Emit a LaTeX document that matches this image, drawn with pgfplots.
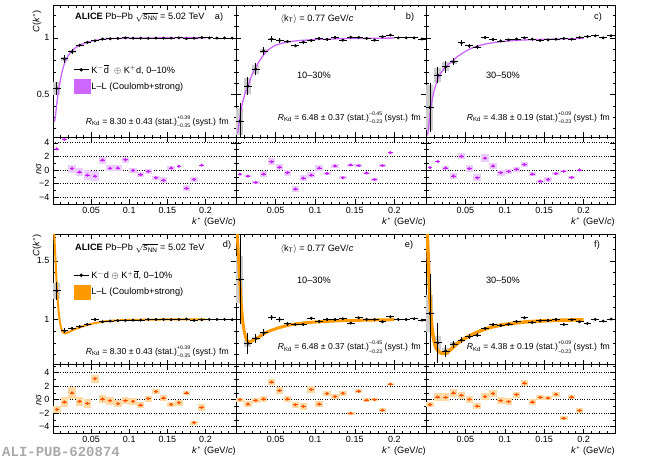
\documentclass[border=0pt]{standalone}
\usepackage{pgfplots}
\pgfplotsset{compat=1.18}
\usepackage{pgfplotstable}
\usepackage{amsmath}
\usepackage{fontspec}
\setmainfont{Liberation Sans}
\newfontfamily\monofont{Liberation Mono}
\definecolor{vline}{RGB}{204,102,255}
\definecolor{vmark}{RGB}{200,30,255}
\definecolor{vbox}{RGB}{236,205,255}
\definecolor{oline}{RGB}{255,153,0}
\definecolor{omark}{RGB}{255,80,0}
\definecolor{obox}{RGB}{255,218,165}
\definecolor{syst}{RGB}{205,205,205}
\definecolor{alig}{RGB}{170,170,170}
\newcommand\tickfont{\fontsize{9}{10}\selectfont}
\newcommand\txtfont{\fontsize{9.2}{11}\selectfont}
\newcommand\rfont{\fontsize{8.6}{10}\selectfont}
\newcommand\ud[2]{\makebox[0pt][l]{\raisebox{5pt}{\fontsize{5.2}{6}\selectfont #1}}\raisebox{-3.4pt}{\fontsize{5.2}{6}\selectfont #2}}

% main panels: x y ey sy
\pgfplotstableread{
x y ey sy
0.005 0.553 0.060 0.055
0.015 0.815 0.035 0.020
0.025 0.877 0.022 0.012
0.035 0.935 0.015 0.006
0.045 0.960 0.012 0
0.055 0.974 0.010 0
0.065 0.990 0.010 0
0.075 0.992 0.008 0
0.085 0.995 0.008 0
0.095 1.000 0.008 0
0.105 0.997 0.007 0
0.115 0.997 0.007 0
0.125 0.996 0.007 0
0.135 0.998 0.007 0
0.145 0.997 0.006 0
0.155 0.998 0.006 0
0.165 1.000 0.006 0
0.175 0.993 0.006 0
0.185 0.997 0.006 0
0.195 1.003 0.006 0
0.205 1.000 0.006 0
0.215 0.998 0.006 0
0.225 0.999 0.006 0
0.235 0.998 0.006 0
}\mainA
\pgfplotstableread{
x y ey sy
0.005 0.265 0.160 0.120
0.015 0.574 0.080 0.070
0.025 0.724 0.050 0.040
0.035 0.883 0.035 0.020
0.045 0.990 0.025 0.008
0.055 0.977 0.020 0
0.065 0.968 0.016 0
0.075 0.930 0.014 0
0.085 0.963 0.013 0
0.095 0.977 0.012 0
0.105 0.995 0.011 0
0.115 0.986 0.010 0
0.125 1.004 0.010 0
0.135 0.980 0.010 0
0.145 1.006 0.010 0
0.155 1.004 0.010 0
0.165 0.995 0.010 0
0.175 0.980 0.010 0
0.185 1.010 0.010 0
0.195 1.025 0.010 0
0.205 1.000 0.010 0
0.215 1.000 0.010 0
0.225 1.000 0.010 0
0.235 0.990 0.010 0
}\mainB
\pgfplotstableread{
x y ey sy
0.005 0.385 0.220 0.200
0.015 0.670 0.070 0.060
0.025 0.744 0.050 0.040
0.035 0.788 0.030 0.020
0.045 0.956 0.025 0
0.055 0.930 0.020 0
0.065 0.920 0.020 0
0.075 1.003 0.015 0
0.085 0.985 0.013 0
0.095 0.973 0.012 0
0.105 0.982 0.012 0
0.115 0.990 0.011 0
0.125 1.000 0.011 0
0.135 0.988 0.011 0
0.145 0.977 0.010 0
0.155 0.982 0.010 0
0.165 0.988 0.010 0
0.175 0.994 0.010 0
0.185 0.988 0.010 0
0.195 1.003 0.010 0
0.205 1.012 0.010 0
0.215 1.018 0.010 0
0.225 1.000 0.010 0
0.235 1.018 0.010 0
}\mainC
\pgfplotstableread{
x y ey sy
0.005 1.244 0.080 0.070
0.015 0.903 0.020 0.010
0.025 0.923 0.015 0.006
0.035 0.938 0.012 0
0.045 0.957 0.010 0
0.055 1.000 0.010 0
0.065 0.980 0.008 0
0.075 0.986 0.008 0
0.085 0.989 0.007 0
0.095 0.991 0.007 0
0.105 0.994 0.007 0
0.115 0.994 0.006 0
0.125 1.000 0.006 0
0.135 1.000 0.006 0
0.145 1.000 0.006 0
0.155 0.998 0.006 0
0.165 1.000 0.006 0
0.175 1.003 0.006 0
0.185 0.992 0.006 0
0.195 0.997 0.006 0
0.205 1.000 0.006 0
0.215 1.000 0.006 0
0.225 1.000 0.006 0
0.235 0.998 0.006 0
}\mainD
\pgfplotstableread{
x y ey sy
0.005 1.340 0.380 0.200
0.015 0.795 0.090 0.030
0.025 0.838 0.040 0.015
0.035 0.886 0.030 0.010
0.045 1.017 0.025 0
0.055 1.000 0.020 0
0.065 0.963 0.016 0
0.075 0.957 0.014 0
0.085 0.957 0.013 0
0.095 1.011 0.012 0
0.105 0.983 0.011 0
0.115 1.000 0.010 0
0.125 1.000 0.010 0
0.135 1.006 0.010 0
0.145 0.969 0.010 0
0.155 1.014 0.010 0
0.165 1.000 0.010 0
0.175 1.000 0.010 0
0.185 0.980 0.010 0
0.195 1.023 0.010 0
0.205 1.000 0.010 0
0.215 1.000 0.010 0
0.225 1.006 0.010 0
0.235 0.994 0.010 0
}\mainE
\pgfplotstableread{
x y ey sy
0.005 1.050 0.340 0.160
0.015 0.800 0.170 0.060
0.025 0.730 0.050 0.030
0.035 0.790 0.030 0.015
0.045 0.824 0.022 0
0.055 0.852 0.020 0
0.065 0.866 0.018 0
0.075 0.923 0.016 0
0.085 0.955 0.014 0
0.095 0.949 0.013 0
0.105 0.960 0.012 0
0.115 0.983 0.012 0
0.125 1.014 0.011 0
0.135 0.974 0.011 0
0.145 0.989 0.010 0
0.155 0.991 0.010 0
0.165 1.000 0.010 0
0.175 0.957 0.010 0
0.185 0.997 0.010 0
0.195 0.980 0.010 0
0.205 0.966 0.010 0
0.215 1.000 0.010 0
0.225 0.986 0.010 0
0.235 1.003 0.010 0
}\mainF

% ratio panels: x y h
\pgfplotstableread{
x y h
0.005 3.10 0.00
0.015 4.50 0.00
0.025 0.20 0.60
0.035 -0.30 0.60
0.045 -0.75 0.70
0.055 -0.90 0.75
0.065 1.45 0.50
0.075 0.25 0.45
0.085 0.30 0.45
0.095 1.50 0.45
0.105 -0.05 0.40
0.115 -0.70 0.40
0.125 -0.20 0.35
0.135 -1.15 0.30
0.145 -1.50 0.40
0.155 0.30 0.30
0.165 0.55 0.00
0.175 -2.70 0.45
0.185 -1.40 0.40
0.195 0.70 0.00
}\ratA
\pgfplotstableread{
x y h
0.005 -0.60 0.00
0.015 -0.90 0.20
0.025 -1.85 0.20
0.035 -0.60 0.45
0.045 1.20 0.50
0.055 0.40 0.45
0.065 -0.40 0.45
0.075 -2.80 0.50
0.085 -1.20 0.40
0.095 -0.75 0.40
0.105 0.30 0.40
0.115 -0.50 0.25
0.125 0.60 0.30
0.135 -1.15 0.20
0.145 0.75 0.20
0.155 0.65 0.20
0.165 -0.45 0.15
0.175 -1.40 0.15
0.185 0.65 0.20
0.195 2.55 0.00
}\ratB
\pgfplotstableread{
x y h
0.005 0.35 0.00
0.015 1.25 0.00
0.025 0.30 0.30
0.035 -0.90 0.45
0.045 2.00 0.45
0.055 0.20 0.55
0.065 -1.15 0.50
0.075 1.75 0.55
0.085 0.60 0.45
0.095 -0.40 0.45
0.105 -0.20 0.40
0.115 0.10 0.40
0.125 0.80 0.40
0.135 -0.60 0.30
0.145 -1.65 0.25
0.155 -1.40 0.30
0.165 -0.55 0.20
0.175 -0.20 0.15
0.185 -1.10 0.25
0.195 0.00 0.00
}\ratC
\pgfplotstableread{
x y h
0.005 -1.45 0.45
0.015 -0.35 0.70
0.025 1.00 0.90
0.035 -0.25 0.70
0.045 -0.55 0.65
0.055 3.10 0.60
0.065 0.10 0.65
0.075 -0.15 0.60
0.085 -0.60 0.55
0.095 -0.15 0.55
0.105 -0.25 0.50
0.115 -0.80 0.45
0.125 0.15 0.45
0.135 1.20 0.40
0.145 0.25 0.40
0.155 -0.70 0.40
0.165 -0.45 0.45
0.175 1.00 0.30
0.185 -3.40 0.30
0.195 -1.15 0.50
}\ratD
\pgfplotstableread{
x y h
0.005 0.00 0.30
0.015 -0.65 0.40
0.025 -0.10 0.40
0.035 0.10 0.40
0.045 2.60 0.45
0.055 1.35 0.50
0.065 0.10 0.50
0.075 -0.75 0.45
0.085 -1.00 0.50
0.095 1.50 0.45
0.105 -0.65 0.40
0.115 0.90 0.40
0.125 0.45 0.40
0.135 0.95 0.35
0.145 -2.00 0.25
0.155 1.25 0.30
0.165 -0.05 0.25
0.175 0.00 0.25
0.185 -1.55 0.25
0.195 2.30 0.20
}\ratE
\pgfplotstableread{
x y h
0.005 -0.75 0.40
0.015 0.40 0.55
0.025 0.35 0.60
0.035 1.00 0.60
0.045 0.65 0.55
0.055 0.05 0.55
0.065 -0.95 0.50
0.075 0.45 0.50
0.085 0.90 0.50
0.095 -0.15 0.50
0.105 -0.30 0.50
0.115 0.75 0.45
0.125 2.45 0.40
0.135 -0.35 0.40
0.145 0.35 0.40
0.155 0.25 0.35
0.165 0.80 0.35
0.175 -2.75 0.30
0.185 0.40 0.35
0.195 -1.60 0.30
}\ratF

\pgfplotsset{
  rootbase/.style={scale only axis, anchor=south west, xmin=0, xmax=0.24,
    axis line style={line width=0.5pt},
    every tick/.style={black, line width=0.5pt},
    tick align=inside, major tick length=5pt, minor tick length=2.5pt,
    xtick={0.05,0.1,0.15,0.2},
    minor xtick={0.01,0.02,0.03,0.04,0.06,0.07,0.08,0.09,0.11,0.12,0.13,0.14,0.16,0.17,0.18,0.19,0.21,0.22,0.23},
    ticklabel style={font=\tickfont},
    /pgf/number format/assume math mode=true,
    yticklabels={}},
  mainTop/.style={rootbase, height=132pt, ymin=0.125, ymax=1.29,
    ytick={0.5,1}, minor ytick={0.2,0.3,0.4,0.6,0.7,0.8,0.9,1.1,1.2},
    xticklabels={}},
  mainBot/.style={rootbase, height=130.5pt, ymin=0.615, ymax=1.73,
    ytick={1,1.5}, minor ytick={0.7,0.8,0.9,1.1,1.2,1.3,1.4,1.6,1.7},
    xticklabels={}},
  ratTop/.style={rootbase, height=67pt, ymin=-5, ymax=4.85,
    ytick={-4,-2,0,2,4}, minor ytick={-5,-3,-1,1,3},
    ymajorgrids, grid style={black, line width=0.6pt, dash pattern=on 0.8pt off 1.6pt},
    xticklabels={0.05,0.1,0.15,0.2}},
  ratBot/.style={ratTop, height=69pt, ymin=-5, ymax=5.2, minor ytick={-5,-3,-1,1,3,5},
    xticklabel style={yshift=1.2pt}},
  systbox/.style={forget plot, only marks, mark=*, mark size=0pt,
    mark options={draw=none, fill=none},
    error bars/.cd, y dir=both, y explicit, error mark=none,
    error bar style={line width=7pt, line cap=butt, color=syst}},
  datapts/.style={forget plot, only marks, black, mark=*, mark size=1.3pt,
    error bars/.cd, x dir=both, x fixed=0.005, y dir=both, y explicit, error mark=none,
    error bar style={line width=0.8pt, line cap=butt, black}},
  rbox/.style={forget plot, only marks, mark=*, mark size=0pt,
    mark options={draw=none, fill=none},
    error bars/.cd, y dir=both, y explicit, error mark=none,
    error bar style={line width=7.5pt, line cap=butt, color=#1}},
  rpts/.style={forget plot, only marks, mark=*, mark size=1.5pt, color=#1,
    mark options={draw=#1, fill=#1, line width=0.1pt},
    error bars/.cd, x dir=both, x fixed=0.003, error mark=none,
    error bar style={line width=0.7pt, line cap=butt, color=#1}},
  leg/.style={legend style={draw=none, fill=none, at={#1}, anchor=north west,
    inner sep=0pt, row sep=3pt, font=\txtfont,
    nodes={inner sep=1.5pt},
    /tikz/every even column/.append style={column sep=2pt}},
    legend cell align=left},
}

\begin{document}
\begin{tikzpicture}
\useasboundingbox (0,0) rectangle (650pt,459pt);

% ===== TOP ROW =====
\begin{axis}[mainTop, at={(53pt,322pt)}, width=183pt, yticklabels={0.5,1},
  leg={(0.11,0.56)}]
\addplot[systbox] table[x=x,y=y,y error=sy]{\mainA};
\addplot[forget plot, vline, line width=1.3pt, smooth] coordinates {
(0.002,0.26) (0.003,0.30) (0.005,0.42) (0.007,0.52) (0.010,0.64) (0.013,0.73)
(0.016,0.79) (0.020,0.845) (0.025,0.885) (0.030,0.915) (0.035,0.935) (0.040,0.95)
(0.050,0.97) (0.060,0.983) (0.070,0.99) (0.080,0.995) (0.100,0.998) (0.150,1.0) (0.200,1.0)};
\addplot[datapts] table[x=x,y=y,y error=ey]{\mainA};
\addlegendimage{black, line width=0.8pt, mark=*, mark size=1.3pt,
  legend image code/.code={\draw[mark repeat=2,mark phase=2,##1] plot coordinates {(0pt,0pt) (7.5pt,0pt) (15pt,0pt)};}}
\addlegendentry{K$^{-}\overline{\text{d}}$ \ $\oplus$ K$^{+}$d, 0–10\%}
\addlegendimage{legend image code/.code={\fill[vline] (0pt,-7pt) rectangle (16pt,7pt);}}
\addlegendentry{L–L (Coulomb+strong)}
\end{axis}

\begin{axis}[mainTop, at={(236pt,322pt)}, width=190pt]
\addplot[systbox] table[x=x,y=y,y error=sy]{\mainB};
\addplot[forget plot, vline, line width=1.3pt, smooth] coordinates {
(0.002,0.16) (0.003,0.20) (0.005,0.30) (0.008,0.42) (0.012,0.52) (0.015,0.57)
(0.020,0.67) (0.025,0.74) (0.030,0.80) (0.035,0.85) (0.040,0.89) (0.045,0.915)
(0.050,0.935) (0.060,0.955) (0.070,0.968) (0.080,0.976) (0.100,0.985) (0.120,0.99)
(0.150,0.995) (0.200,0.998)};
\addplot[datapts] table[x=x,y=y,y error=ey]{\mainB};
\end{axis}

\begin{axis}[mainTop, at={(426pt,322pt)}, width=189pt]
\addplot[systbox] table[x=x,y=y,y error=sy]{\mainC};
\addplot[forget plot, vline, line width=1.3pt, smooth] coordinates {
(0.002,0.14) (0.003,0.20) (0.005,0.33) (0.008,0.46) (0.011,0.55) (0.015,0.64)
(0.020,0.70) (0.025,0.74) (0.030,0.775) (0.035,0.805) (0.040,0.835) (0.050,0.88)
(0.060,0.915) (0.075,0.945) (0.090,0.962) (0.100,0.97) (0.120,0.98) (0.150,0.987) (0.200,0.995)};
\addplot[datapts] table[x=x,y=y,y error=ey]{\mainC};
\end{axis}

\begin{axis}[ratTop, at={(53pt,255pt)}, width=183pt, yticklabels={−4,−2,0,2,4}]
\addplot[rbox=vbox] table[x=x,y=y,y error=h]{\ratA};
\addplot[rpts=vmark] table[x=x,y=y]{\ratA};
\end{axis}
\begin{axis}[ratTop, at={(236pt,255pt)}, width=190pt]
\addplot[rbox=vbox] table[x=x,y=y,y error=h]{\ratB};
\addplot[rpts=vmark] table[x=x,y=y]{\ratB};
\end{axis}
\begin{axis}[ratTop, at={(426pt,255pt)}, width=189pt]
\addplot[rbox=vbox] table[x=x,y=y,y error=h]{\ratC};
\addplot[rpts=vmark] table[x=x,y=y]{\ratC};
\end{axis}

% ===== BOTTOM ROW =====
\begin{axis}[mainBot, at={(53pt,94.5pt)}, width=183pt, yticklabels={1,1.5},
  leg={(0.11,0.735)}]
\addplot[systbox] table[x=x,y=y,y error=sy]{\mainD};
\addplot[forget plot, oline, line width=2pt, smooth] coordinates {
(0.0015,1.74) (0.003,1.55) (0.005,1.28) (0.007,1.10) (0.009,0.98) (0.011,0.92)
(0.013,0.89) (0.016,0.88) (0.020,0.89) (0.025,0.905) (0.030,0.92) (0.040,0.943)
(0.050,0.962) (0.060,0.975) (0.070,0.985) (0.085,0.992) (0.100,0.996) (0.150,1.0) (0.200,1.0)};
\addplot[datapts] table[x=x,y=y,y error=ey]{\mainD};
\addlegendimage{black, line width=0.8pt, mark=*, mark size=1.3pt,
  legend image code/.code={\draw[mark repeat=2,mark phase=2,##1] plot coordinates {(0pt,0pt) (7.5pt,0pt) (15pt,0pt)};}}
\addlegendentry{K$^{-}$d $\oplus$ K$^{+}\overline{\text{d}}$, 0–10\%}
\addlegendimage{legend image code/.code={\fill[oline] (0pt,-7pt) rectangle (16pt,7pt);}}
\addlegendentry{L–L (Coulomb+strong)}
\end{axis}

\begin{axis}[mainBot, at={(236pt,94.5pt)}, width=190pt]
\addplot[systbox] table[x=x,y=y,y error=sy]{\mainE};
\addplot[forget plot, oline, line width=3pt, smooth] coordinates {
(0.0015,1.74) (0.003,1.55) (0.005,1.30) (0.007,1.10) (0.009,0.96) (0.011,0.88)
(0.013,0.83) (0.016,0.81) (0.020,0.815) (0.025,0.835) (0.030,0.855) (0.035,0.875)
(0.040,0.895) (0.050,0.92) (0.060,0.94) (0.070,0.955) (0.085,0.97) (0.100,0.978)
(0.125,0.987) (0.150,0.992) (0.200,0.998)};
\addplot[datapts] table[x=x,y=y,y error=ey]{\mainE};
\end{axis}

\begin{axis}[mainBot, at={(426pt,94.5pt)}, width=189pt]
\addplot[systbox] table[x=x,y=y,y error=sy]{\mainF};
\addplot[forget plot, oline, line width=3.5pt, smooth] coordinates {
(0.0015,1.74) (0.003,1.50) (0.005,1.18) (0.007,0.97) (0.009,0.86) (0.012,0.77)
(0.016,0.725) (0.020,0.71) (0.025,0.712) (0.030,0.735) (0.035,0.765) (0.040,0.795)
(0.050,0.84) (0.060,0.875) (0.075,0.918) (0.090,0.945) (0.100,0.957) (0.125,0.978)
(0.150,0.988) (0.175,0.994) (0.200,0.997)};
\addplot[datapts] table[x=x,y=y,y error=ey]{\mainF};
\end{axis}

\begin{axis}[ratBot, at={(53pt,25.5pt)}, width=183pt, yticklabels={−4,−2,0,2,4}]
\addplot[rbox=obox] table[x=x,y=y,y error=h]{\ratD};
\addplot[rpts=omark] table[x=x,y=y]{\ratD};
\end{axis}
\begin{axis}[ratBot, at={(236pt,25.5pt)}, width=190pt]
\addplot[rbox=obox] table[x=x,y=y,y error=h]{\ratE};
\addplot[rpts=omark] table[x=x,y=y]{\ratE};
\end{axis}
\begin{axis}[ratBot, at={(426pt,25.5pt)}, width=189pt]
\addplot[rbox=obox] table[x=x,y=y,y error=h]{\ratF};
\addplot[rpts=omark] table[x=x,y=y]{\ratF};
\end{axis}

% ===== TEXTS =====
\begin{scope}[every node/.style={inner sep=0pt, font=\txtfont}]
\foreach \yy in {449pt,225pt} {\node[rotate=90, anchor=east] at (37pt,\yy) {\textit{C}(\textit{k}$^{*}$)};}
\node[rotate=90] at (39pt,290pt) {\textit{n}σ};
\node[rotate=90] at (39pt,59pt) {\textit{n}σ};
\foreach \xx in {236pt,426pt,615pt} {
  \node[anchor=east] at (\xx,237.3pt) {\textit{k}$^{*}$ (GeV/\textit{c})};
  \node[anchor=east] at (\xx,7.6pt) {\textit{k}$^{*}$ (GeV/\textit{c})};
}
\node[anchor=west] at (75pt,442pt) {\textbf{ALICE} Pb–Pb $\sqrt{\text{\itshape s}_{\text{NN}}}$ = 5.02 TeV};
\node at (219pt,442pt) {a)};
\node at (410pt,442pt) {b)};
\node at (598pt,442pt) {c)};
\node at (317pt,440pt) {$\langle$k$_{\text{T}}\rangle$ = 0.77 GeV/\textit{c}};
\node at (314pt,384pt) {10–30\%};
\node at (503pt,384pt) {30–50\%};
\node[anchor=east, font=\rfont] at (229pt,337pt) {\textit{R}$_{\text{Kd}}$ = 8.30 ± 0.43 (stat.)\ud{+0.39}{−0.35} (syst.) fm};
\node[anchor=east, font=\rfont] at (421pt,341.3pt) {\textit{R}$_{\text{Kd}}$ = 6.48 ± 0.37 (stat.)\ud{−0.45}{−0.23} (syst.) fm};
\node[anchor=east, font=\rfont] at (610pt,341pt) {\textit{R}$_{\text{Kd}}$ = 4.38 ± 0.19 (stat.)\ud{+0.09}{−0.23} (syst.) fm};
\node[anchor=west] at (75pt,210.7pt) {\textbf{ALICE} Pb–Pb $\sqrt{\text{\itshape s}_{\text{NN}}}$ = 5.02 TeV};
\node at (227pt,214pt) {d)};
\node at (409pt,214pt) {e)};
\node at (597pt,214pt) {f)};
\node at (317pt,210pt) {$\langle$k$_{\text{T}}\rangle$ = 0.77 GeV/\textit{c}};
\node at (314pt,179pt) {10–30\%};
\node at (503pt,179pt) {30–50\%};
\node[anchor=east, font=\rfont] at (229pt,107.3pt) {\textit{R}$_{\text{Kd}}$ = 8.30 ± 0.43 (stat.)\ud{+0.39}{−0.35} (syst.) fm};
\node[anchor=east, font=\rfont] at (421pt,111.7pt) {\textit{R}$_{\text{Kd}}$ = 6.48 ± 0.37 (stat.)\ud{−0.45}{−0.23} (syst.) fm};
\node[anchor=east, font=\rfont] at (610pt,111.7pt) {\textit{R}$_{\text{Kd}}$ = 4.38 ± 0.19 (stat.)\ud{+0.09}{−0.23} (syst.) fm};
\node[anchor=west, text=alig, font={\monofont\bfseries\fontsize{14}{15}\selectfont}] at (2pt,7.2pt) {ALI-PUB-620874};
\end{scope}
\end{tikzpicture}
\end{document}
